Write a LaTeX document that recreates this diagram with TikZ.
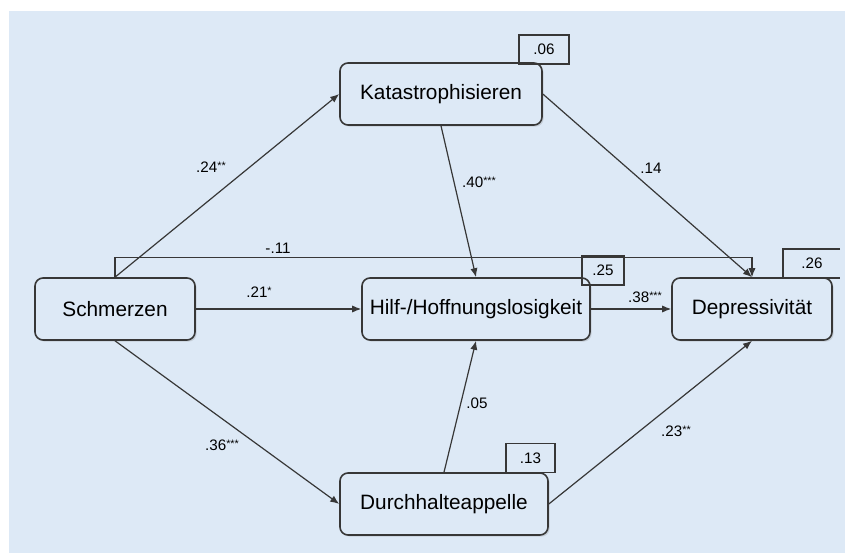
\documentclass[tikz,border=0pt]{standalone}
\usepackage{fontspec}
\setmainfont{Liberation Sans}
\usepackage{xcolor}
\usetikzlibrary{arrows.meta,shadows}
\definecolor{bgblue}{RGB}{221,233,246}
\definecolor{linegray}{RGB}{55,55,55}
\tikzset{
  >={Latex[length=4.5pt,width=3.6pt]},
}
\tikzstyle{var}=[draw=linegray,line width=.8pt,rounded corners=4pt,fill=bgblue,
  minimum height=31pt,font=\fontsize{10.4}{12}\selectfont,
  drop shadow={opacity=.25,shadow xshift=.8pt,shadow yshift=-.8pt}]
\tikzstyle{path}=[linegray,line width=.6pt,->]
\tikzstyle{coef}=[font=\fontsize{7.6}{9}\selectfont,inner sep=1pt]
\tikzstyle{rsq}=[draw=linegray,line width=.6pt,font=\fontsize{7.6}{9}\selectfont,
  minimum height=14.5pt,inner sep=0pt]
\newcommand{\sig}[1]{{\fontsize{5.4}{5}\selectfont\raisebox{.3em}{#1}}}

\begin{document}
\begin{tikzpicture}[x=.5pt,y=-.5pt]
    \useasboundingbox (0,0) rectangle (845,555);
    \fill[bgblue] (9,11) rectangle (845,553);
    % variables
    \node[var,minimum width=80pt] (schm) at (115,309) {Schmerzen};
    \node[var,minimum width=101pt] (kat) at (441,94) {Katastrophisieren};
    \node[var,minimum width=114pt] (hilf) at (476,309) {Hilf-/Hoffnungslosigkeit};
    \node[var,minimum width=104pt] (durch) at (444,504) {Durchhalteappelle};
    \node[var,minimum width=80pt] (dep) at (752,309) {Depressivit\"at};
    % explained variance
    \node[rsq,minimum width=25pt] (r2kat) at (544,49.5) {.06};
    \node[rsq,minimum width=21pt] (r2hilf) at (603,270.5) {.25};
    \node[rsq,minimum width=24.5pt] (r2durch) at (530.5,458) {.13};
    \node[coef] (r2dep) at (812,263.5) {.26};
    \draw[linegray,line width=.6pt] (840,249) -| (783,278) -- (840,278);
    % paths
    \draw[path] (schm.north) -- (kat.west);
    \draw[path] (schm.south) -- (durch.west);
    \draw[path] (schm.east) -- (hilf.west);
    \draw[path] (schm.north) -- ++(0,-20) -| (dep.north);
    \draw[path] (kat.south) -- (hilf.north);
    \draw[path] (kat.east) -- (dep.north);
    \draw[path] (hilf.east) -- (dep.west);
    \draw[path] (durch.north) -- (hilf.south);
    \draw[path] (durch.east) -- (dep.south);
    % coefficients
    \node[coef] (c1) at (211,167) {.24\sig{**}};
    \node[coef] (c2) at (222,445) {.36\sig{***}};
    \node[coef] (c3) at (259,292) {.21\sig{*}};
    \node[coef] (c4) at (278,248) {-.11};
    \node[coef] (c5) at (479,182) {.40\sig{***}};
    \node[coef] (c6) at (651,168) {.14};
    \node[coef] (c7) at (645,297) {.38\sig{***}};
    \node[coef] (c8) at (477,403) {.05};
    \node[coef] (c9) at (676,431) {.23\sig{**}};
\end{tikzpicture}
\end{document}
